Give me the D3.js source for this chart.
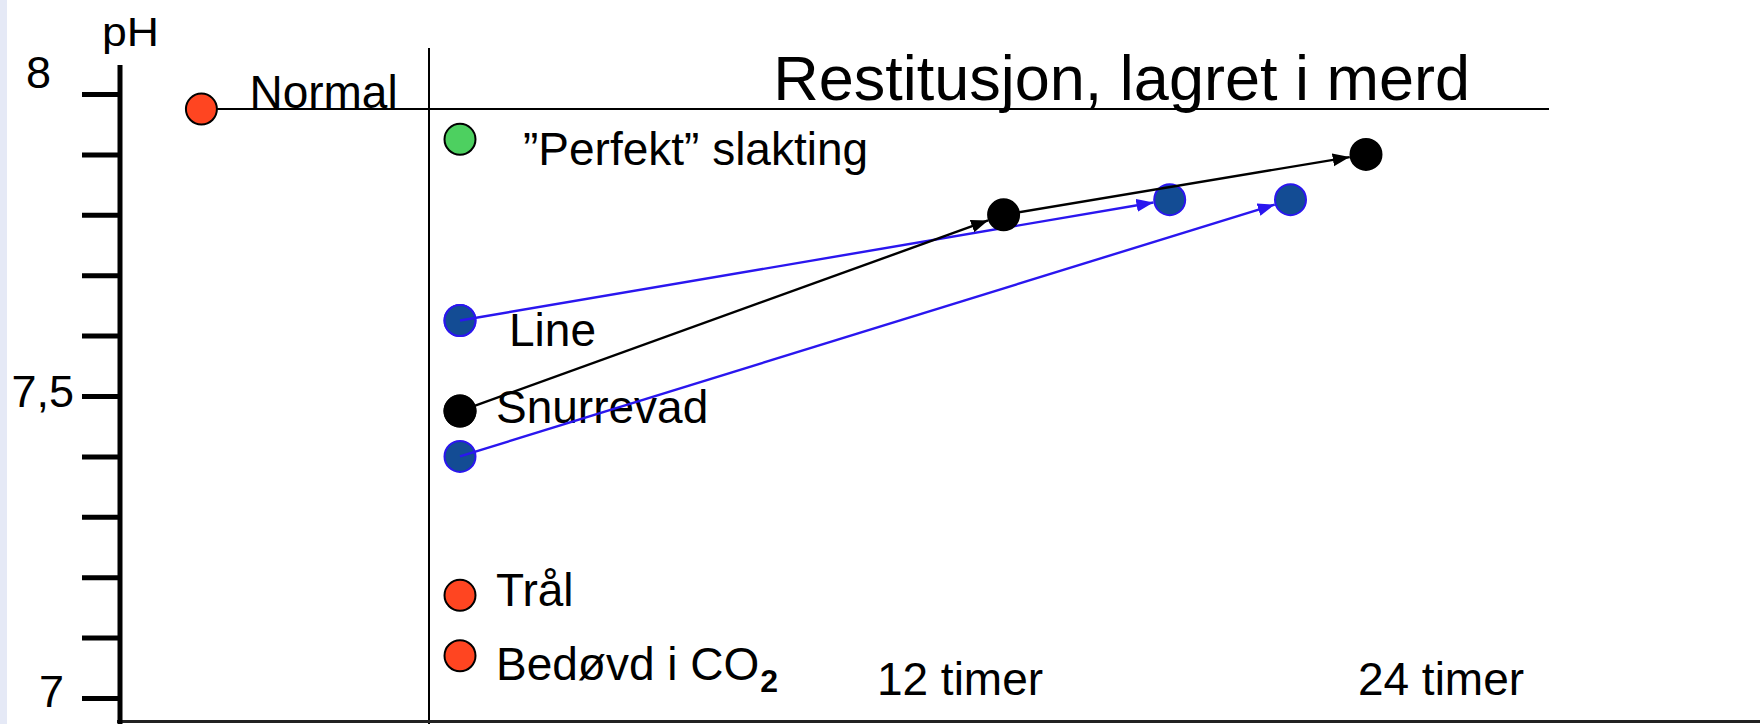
<!DOCTYPE html>
<html>
<head>
<meta charset="utf-8">
<script src="https://cdn.jsdelivr.net/npm/d3@7"></script>
<style>
  body { margin: 0; background: #fff; }
  svg { display: block; font-family: "Liberation Sans", Arial, sans-serif; }
</style>
</head>
<body>
<script>
// ----- data -----
const tickValues = [7.0, 7.1, 7.2, 7.3, 7.4, 7.5, 7.6, 7.7, 7.8, 7.9, 8.0];
const tickLabelValues = [7, 7.5, 8];
const tickLabelTexts = ["7", "7,5", "8"];

// single points: name, hours after slaughter (Normal sits before), pH
const pointNames = ["Normal", "”Perfekt” slakting", "Line", "Snurrevad", "Trål", "Bedøvd i CO"];
const pointHours = [-6.85, 0, 0, 0, 0, 0];
const pointPH = [7.975, 7.925, 7.625, 7.475, 7.17, 7.07];

// restitution in net pen
const lineHours = [0, 18.8];
const linePH = [7.625, 7.825];
const snurrevadHours = [0, 14.4, 24];
const snurrevadPH = [7.475, 7.80, 7.90];
const line2Hours = [0, 22.0];
const line2PH = [7.40, 7.825];

const timeLabelHours = [12, 24];
const timeLabelTexts = ["12 timer", "24 timer"];

// ----- layout and styles -----
const width = 1760, height = 724;
const r = 15.5;
const red = "#ff4521", green = "#4dd060", blueFill = "#134c94", blue = "#2a16ef";

const pointStyle = {
    "Normal": { fill: red, stroke: "#000", dx: 48, dy: -1 },
    "”Perfekt” slakting": { fill: green, stroke: "#000", dx: 63, dy: 26 },
    "Line": { fill: blueFill, stroke: blue, dx: 49, dy: 25 },
    "Snurrevad": { fill: "#000", stroke: "#000", dx: 36, dy: 12 },
    "Trål": { fill: red, stroke: "#000", dx: 36, dy: 11 },
    "Bedøvd i CO": { fill: red, stroke: "#000", dx: 36, dy: 24 }
};

const x = d3.scaleLinear().domain([0, 24]).range([460, 1366]);
const y = d3.scaleLinear().domain([7, 8]).range([698, 94]);

const svg = d3.select("body").append("svg")
    .attr("width", width)
    .attr("height", height);

// faint strip at left edge
svg.append("rect")
    .attr("x", 0).attr("y", 0)
    .attr("width", 7).attr("height", height)
    .attr("fill", "#e5e9f6");

// arrow heads
const defs = svg.append("defs");
[["arrowBlack", "#000"], ["arrowBlue", blue]].forEach(([id, col]) => {
    defs.append("marker")
        .attr("id", id)
        .attr("markerUnits", "userSpaceOnUse")
        .attr("markerWidth", 18).attr("markerHeight", 14)
        .attr("refX", 17).attr("refY", 6.5)
        .attr("orient", "auto")
        .append("path")
        .attr("d", "M0,0 L17,6.5 L0,13 Z")
        .attr("fill", col);
});

// ----- frame lines -----
svg.append("line")
    .attr("x1", 429).attr("x2", 429)
    .attr("y1", 48).attr("y2", height)
    .attr("stroke", "#000").attr("stroke-width", 2);

svg.append("line")
    .attr("x1", x(pointHours[0])).attr("x2", 1549)
    .attr("y1", y(pointPH[0])).attr("y2", y(pointPH[0]))
    .attr("stroke", "#000").attr("stroke-width", 2);

// bottom axis line
svg.append("line")
    .attr("x1", 117).attr("x2", width)
    .attr("y1", 721.5).attr("y2", 721.5)
    .attr("stroke", "#222").attr("stroke-width", 3);

// ----- y axis -----
const yAxis = svg.append("g")
    .attr("transform", "translate(120,0)")
    .call(d3.axisLeft(y).tickValues(tickValues).tickSize(38).tickFormat(""));
yAxis.select(".domain").remove();
yAxis.selectAll(".tick line").attr("stroke", "#000").attr("stroke-width", 5);

svg.append("line")
    .attr("x1", 120).attr("x2", 120)
    .attr("y1", 65).attr("y2", height)
    .attr("stroke", "#000").attr("stroke-width", 5);

// nudges for the hand placed tick labels
const tickNudge = { "7": [-10, -2], "7,5": [0, 0], "8": [-23, -17] };
svg.selectAll(".tickLabel")
    .data(tickLabelValues)
    .enter()
    .append("text")
    .attr("class", "tickLabel")
    .attr("text-anchor", "end")
    .attr("x", (d, i) => 74 + tickNudge[tickLabelTexts[i]][0])
    .attr("y", (d, i) => y(d) + 11 + tickNudge[tickLabelTexts[i]][1])
    .attr("font-size", 45)
    .text((d, i) => tickLabelTexts[i]);

svg.append("text")
    .attr("x", 102).attr("y", 46)
    .attr("font-size", 40)
    .attr("textLength", 57)
    .attr("lengthAdjust", "spacingAndGlyphs")
    .text("pH");

// title
svg.append("text")
    .attr("x", 1470).attr("y", 100)
    .attr("text-anchor", "end")
    .attr("font-size", 63)
    .text("Restitusjon, lagret i merd");

// ----- single points -----
const points = pointNames.map((n, i) => ({ name: n, h: pointHours[i], ph: pointPH[i] }));

svg.selectAll(".pt")
    .data(points)
    .enter()
    .append("circle")
    .attr("class", "pt")
    .attr("cx", d => x(d.h))
    .attr("cy", d => y(d.ph))
    .attr("r", r)
    .attr("fill", d => pointStyle[d.name].fill)
    .attr("stroke", d => pointStyle[d.name].stroke)
    .attr("stroke-width", 2);

const labels = svg.selectAll(".ptLabel")
    .data(points)
    .enter()
    .append("text")
    .attr("class", "ptLabel")
    .attr("x", d => x(d.h) + pointStyle[d.name].dx)
    .attr("y", d => y(d.ph) + pointStyle[d.name].dy)
    .attr("font-size", 46)
    .text(d => d.name);

// subscript 2 in CO2
labels.filter(d => d.name === "Bedøvd i CO")
    .append("tspan")
    .attr("dx", 1).attr("dy", 12)
    .attr("font-size", 32)
    .attr("font-weight", "bold")
    .text("2");

// ----- restitution series -----
const series = [
    { hours: lineHours, ph: linePH, color: blue, fill: blueFill, stroke: blue, marker: "arrowBlue" },
    { hours: line2Hours, ph: line2PH, color: blue, fill: blueFill, stroke: blue, marker: "arrowBlue" },
    { hours: snurrevadHours, ph: snurrevadPH, color: "#000", fill: "#000", stroke: "#000", marker: "arrowBlack" }
];

series.forEach(s => {
    const pts = s.hours.map((h, i) => ({ h: h, ph: s.ph[i] }));

    svg.selectAll(null)
        .data(pts)
        .enter()
        .append("circle")
        .attr("cx", d => x(d.h))
        .attr("cy", d => y(d.ph))
        .attr("r", r)
        .attr("fill", s.fill)
        .attr("stroke", s.stroke)
        .attr("stroke-width", 2);

    // arrows, stopping at the edge of the next circle
    svg.selectAll(null)
        .data(d3.pairs(pts))
        .enter()
        .append("line")
        .each(function ([a, b]) {
            const x1 = x(a.h), y1 = y(a.ph), x2 = x(b.h), y2 = y(b.ph);
            const len = Math.hypot(x2 - x1, y2 - y1);
            d3.select(this)
                .attr("x1", x1).attr("y1", y1)
                .attr("x2", x2 - (x2 - x1) / len * (r + 1))
                .attr("y2", y2 - (y2 - y1) / len * (r + 1));
        })
        .attr("stroke", s.color)
        .attr("stroke-width", 2.4)
        .attr("marker-end", "url(#" + s.marker + ")");
});

// time labels
const timeNudge = [47, 75];
svg.selectAll(".timeLabel")
    .data(timeLabelHours)
    .enter()
    .append("text")
    .attr("class", "timeLabel")
    .attr("x", (d, i) => x(d) + timeNudge[i])
    .attr("y", 695)
    .attr("text-anchor", "middle")
    .attr("font-size", 46)
    .text((d, i) => timeLabelTexts[i]);
</script>
</body>
</html>
